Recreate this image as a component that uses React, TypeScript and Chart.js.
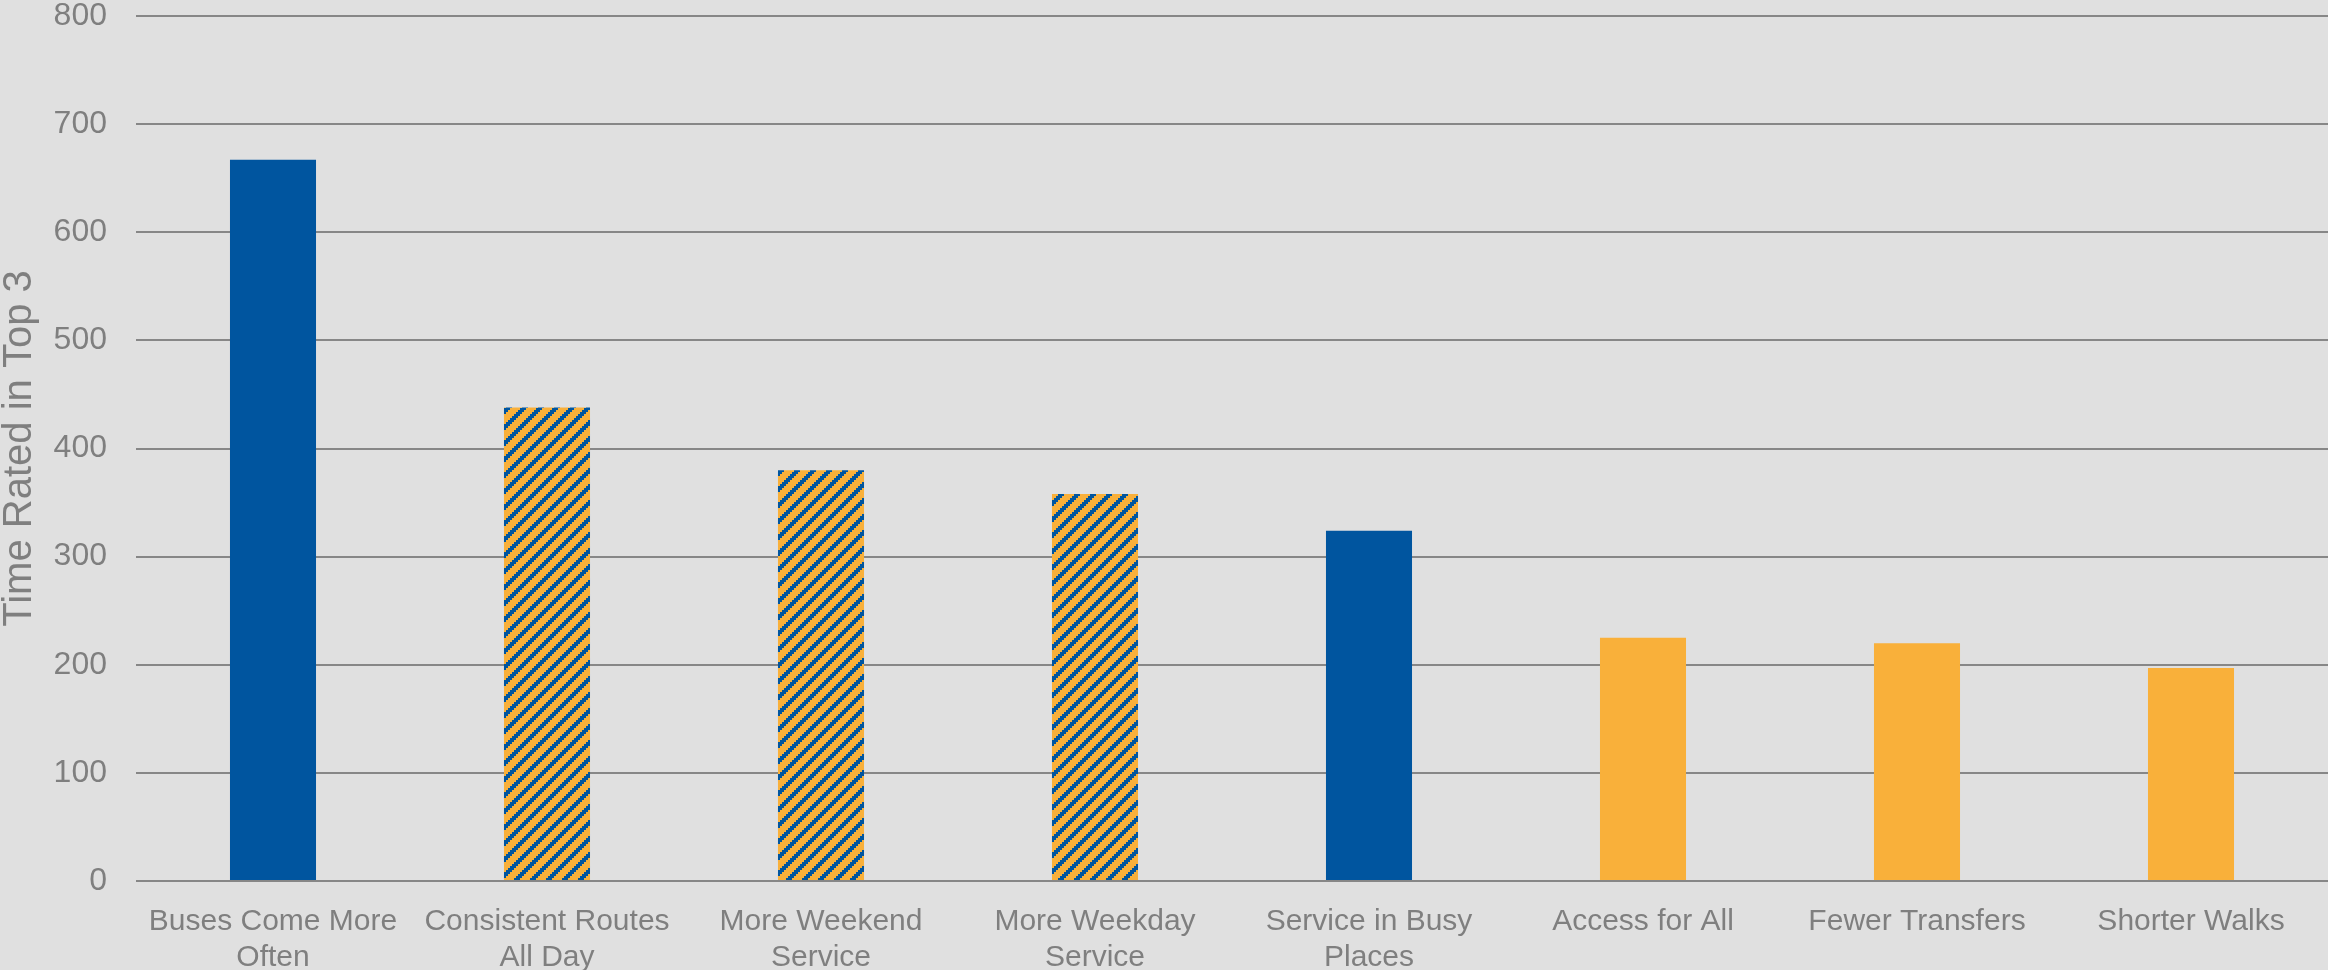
import React, { useEffect, useRef } from "react";
import { Chart, registerables } from "chart.js";

Chart.register(...registerables);

const categories: (string | string[])[] = [
  ["Buses Come More", "Often"],
  ["Consistent Routes", "All Day"],
  ["More Weekend", "Service"],
  ["More Weekday", "Service"],
  ["Service in Busy", "Places"],
  "Access for All",
  "Fewer Transfers",
  "Shorter Walks",
];
const values = [667, 438, 380, 358, 324, 225, 220, 197];
// fill kind per bar: "blue", "hatch", "orange"
const fillKinds = ["blue", "hatch", "hatch", "hatch", "blue", "orange", "orange", "orange"];
const yTicks = [0, 100, 200, 300, 400, 500, 600, 700, 800];
const yTitle = "Time Rated in Top 3";

const BLUE = "#00559F";
const ORANGE = "#F9B03A";
const BG = "#E0E0E0";
const GRID = "#878787";
const TEXT = "#7F7F7F";

function makeHatch(): CanvasPattern | string {
  const c = document.createElement("canvas");
  c.width = 16;
  c.height = 16;
  const ctx = c.getContext("2d");
  if (!ctx) return ORANGE;
  for (let y = 0; y < 16; y++) {
    for (let x = 0; x < 16; x++) {
      const bx = Math.floor(x / 2);
      const by = Math.floor(y / 2);
      ctx.fillStyle = (bx + by) % 8 < 3 ? BLUE : ORANGE;
      ctx.fillRect(x, y, 1, 1);
    }
  }
  return ctx.createPattern(c, "repeat") || ORANGE;
}

export default function App() {
  const ref = useRef<HTMLCanvasElement | null>(null);

  useEffect(() => {
    const canvas = ref.current;
    if (!canvas) return;
    const hatch = makeHatch();
    const colors = fillKinds.map((k) => (k === "blue" ? BLUE : k === "hatch" ? hatch : ORANGE));
    const chart = new Chart(canvas, {
      type: "bar",
      data: {
        labels: categories,
        datasets: [
          {
            data: values,
            backgroundColor: colors as any,
            borderWidth: 0,
            categoryPercentage: 1,
            barPercentage: 0.314,
          },
        ],
      },
      options: {
        animation: false,
        responsive: false,
        devicePixelRatio: 1,
        layout: { padding: { top: 16, right: 0, left: 0, bottom: 0 } },
        plugins: { legend: { display: false }, tooltip: { enabled: false } },
        scales: {
          x: {
            grid: { display: false, drawTicks: false },
            border: { display: false },
            ticks: {
              color: TEXT,
              font: { family: "'Liberation Sans', Arial, sans-serif", size: 30, lineHeight: 1.2 },
              padding: 23,
              maxRotation: 0,
              autoSkip: false,
            },
            afterFit: (scale: any) => {
              scale.height = 89;
              scale.paddingLeft = 0;
              scale.paddingRight = 0;
            },
          },
          y: {
            min: 0,
            max: 800,
            afterBuildTicks: (scale: any) => {
              scale.ticks = yTicks.map((v) => ({ value: v }));
            },
            grid: { color: GRID, lineWidth: 2, drawTicks: false },
            border: { display: false },
            ticks: {
              color: TEXT,
              font: { family: "'Liberation Sans', Arial, sans-serif", size: 32 },
              padding: 29,
            },
            title: {
              display: true,
              text: yTitle,
              color: TEXT,
              font: { family: "'Liberation Sans', Arial, sans-serif", size: 40, lineHeight: 1 },
              padding: 0,
            },
            afterFit: (scale: any) => {
              scale.width = 136;
              scale.paddingTop = 0;
              scale.paddingBottom = 0;
            },
          },
        },
      },
    });
    return () => chart.destroy();
  }, []);

  return (
    <div
      style={{
        position: "fixed",
        left: 0,
        top: 0,
        width: 2328,
        height: 970,
        background: BG,
      }}
    >
      <canvas ref={ref} width={2328} height={970} style={{ display: "block", width: 2328, height: 970 }} />
    </div>
  );
}
